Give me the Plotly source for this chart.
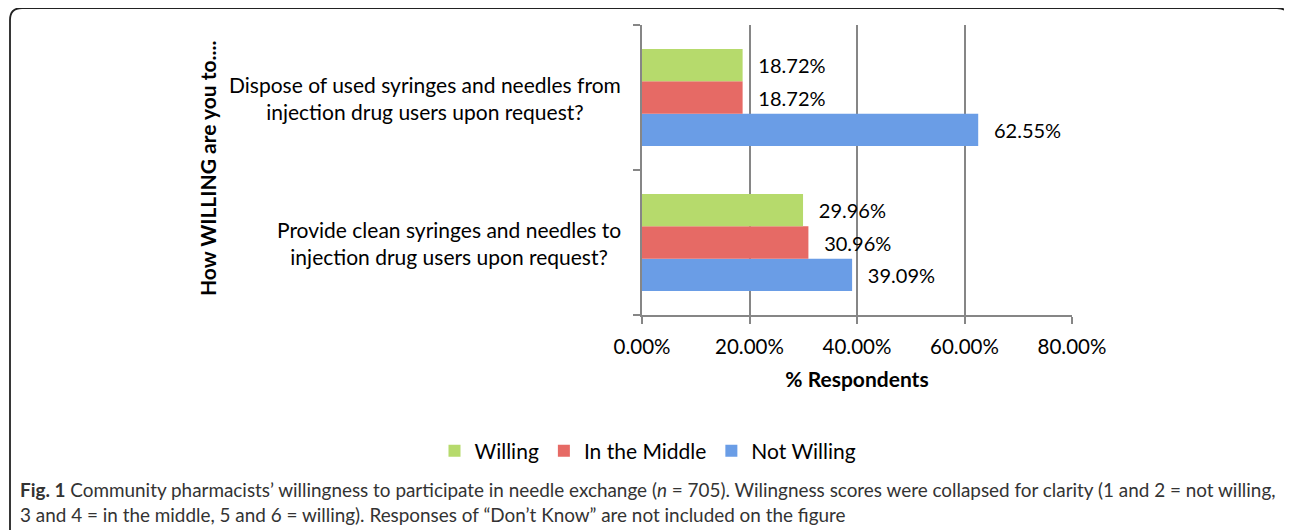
import plotly.graph_objects as go

categories = ["Provide clean syringes and needles to<br>injection drug users upon request?",
              "Dispose of used syringes and needles from<br>injection drug users upon request?"]
series_names = ["Not Willing", "In the Middle", "Willing"]
not_willing = [39.09, 62.55]
in_middle = [30.96, 18.72]
willing = [29.96, 18.72]
x_ticks = [0, 20, 40, 60, 80]
x_tick_labels = ["0.00%", "20.00%", "40.00%", "60.00%", "80.00%"]

colors = {"Not Willing": "#6a9de6", "In the Middle": "#e66a65", "Willing": "#b6da6c"}

W, H = 1292, 530
OFF = 8  # page body margin offset
L = 642 - OFF
T = 25 - OFF
R = W - (1072 - OFF)
B = H - (315 - OFF)
PW, PH = W - L - R, H - T - B


def px(xp):
    return (xp - OFF - L) / PW


def py(yp):
    return (H - B - (yp - OFF)) / PH


FONT = "Lato"

fig = go.Figure()
for name, vals in zip(series_names, [not_willing, in_middle, willing]):
    fig.add_trace(go.Bar(
        y=categories, x=vals, orientation="h", name=name,
        marker=dict(color=colors[name], line=dict(width=0)),
        text=vals, texttemplate="&nbsp;&nbsp;\u2009%{x:.2f}%",
        textposition="outside", cliponaxis=False,
        textfont=dict(family=FONT, size=20, color="#000"),
    ))

fig.update_layout(
    width=W, height=H,
    margin=dict(l=L, r=R, t=T, b=B, autoexpand=False),
    paper_bgcolor="white", plot_bgcolor="white",
    barmode="group", bargap=0.33, bargroupgap=0,
    font=dict(family=FONT, size=20, color="#000"),
    showlegend=True,
    legend=dict(orientation="h", traceorder="reversed", x=px(648), xanchor="center",
                y=py(451), yanchor="middle", font=dict(size=21, family=FONT),
                itemwidth=30),
    xaxis=dict(range=[0, 80], tickvals=x_ticks, ticktext=x_tick_labels,
               showgrid=True, gridcolor="#868686", gridwidth=1.6,
               showline=True, linecolor="#868686", linewidth=1.6,
               ticks="outside", ticklen=7, tickcolor="#868686", tickwidth=1.6,
               ticklabelstandoff=6,
               tickfont=dict(size=20.5, family=FONT), zeroline=False,
               title=dict(text="<b>% Respondents</b>", font=dict(size=21, family=FONT), standoff=15)),
    yaxis=dict(type="category", categoryorder="array", categoryarray=categories,
               showticklabels=False, tickson="boundaries",
               ticks="outside", ticklen=7, tickcolor="#868686", tickwidth=1.6,
               showline=True, linecolor="#868686", linewidth=1.6, showgrid=False),
)

# category labels, centered per line, right edge near axis
for c in categories:
    fig.add_annotation(xref="paper", yref="y", x=px(623), y=c, xanchor="right",
                       yanchor="middle", align="center", showarrow=False, text=c,
                       font=dict(size=21, family=FONT, color="#000"))

# y axis title
fig.add_annotation(xref="paper", yref="paper", x=px(207), y=py(169), textangle=-90,
                   showarrow=False, xanchor="center", yanchor="middle",
                   text="<b>How WILLING are you to....</b>",
                   font=dict(size=21, family=FONT, color="#000"))

# caption
fig.add_annotation(xref="paper", yref="paper", x=px(18), y=py(501.5), xanchor="left",
                   yanchor="middle", align="left", showarrow=False,
                   text=("<b>Fig. 1</b> Community pharmacists’ willingness to participate in needle exchange "
                         "(<i>n</i> = 705). Wilingness scores were collapsed for clarity (1 and 2 = not willing,<br>"
                         "3 and 4 = in the middle, 5 and 6 = willing). Responses of “Don’t Know” are not included on the figure"),
                   font=dict(size=18.9, family=FONT, color="#333"))

# rounded border
x0, x1, y0, y1, r = 10, 1289, 8, 545, 12
path = (f"M {px(x0)},{py(y1)} L {px(x0)},{py(y0 + r)} Q {px(x0)},{py(y0)} {px(x0 + r)},{py(y0)} "
        f"L {px(x1 - r)},{py(y0)} Q {px(x1)},{py(y0)} {px(x1)},{py(y0 + r)} L {px(x1)},{py(y1)}")
fig.add_shape(type="path", xref="paper", yref="paper", path=path,
              line=dict(color="#222", width=1.8), layer="below")

fig.write_html("out.html")
